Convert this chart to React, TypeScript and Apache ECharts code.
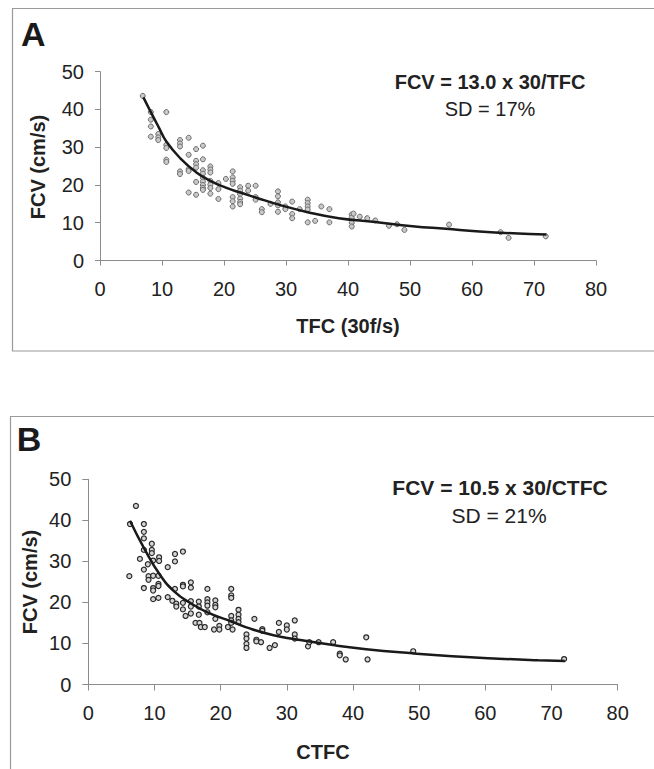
import React, { useEffect, useRef } from "react";
import * as echarts from "echarts";

// Panel A: TFC (30f/s) vs FCV (cm/s)
const tfcA = [6.9, 8.2, 8.2, 8.2, 8.2, 9.4, 9.4, 9.4, 10.7, 10.7, 10.7, 10.7, 10.7, 12.9, 12.9, 12.9, 12.9, 12.9, 14.3, 14.3, 14.3, 14.3, 14.3, 15.5, 15.5, 15.5, 15.5, 15.5, 15.5, 16.6, 16.6, 16.6, 16.6, 16.6, 16.6, 16.6, 16.6, 16.6, 17.8, 17.8, 17.8, 17.8, 17.8, 17.8, 17.8, 19.1, 19.1, 19.1, 20.3, 21.4, 21.4, 21.4, 21.4, 21.4, 21.4, 21.4, 22.6, 22.6, 22.6, 22.6, 22.6, 22.6, 23.9, 23.9, 25.1, 25.1, 25.1, 26.1, 26.1, 27.5, 28.7, 28.7, 28.7, 28.7, 28.7, 29.9, 29.9, 31.0, 31.0, 31.0, 32.2, 33.5, 33.5, 33.5, 33.5, 33.5, 34.7, 35.7, 37.0, 37.0, 40.6, 40.6, 40.6, 40.6, 40.9, 41.9, 43.1, 44.4, 46.6, 47.9, 49.1, 56.3, 64.6, 65.9, 71.9];
const fcvA = [43.6, 39.3, 37.3, 35.5, 32.8, 33.5, 32.6, 31.9, 39.3, 30.6, 29.8, 26.7, 26.1, 31.9, 31.0, 30.2, 23.6, 22.9, 32.5, 28.0, 24.2, 23.7, 18.0, 29.5, 26.4, 25.5, 24.6, 20.8, 17.4, 30.4, 26.8, 23.9, 23.0, 21.9, 20.9, 20.0, 19.2, 18.7, 24.9, 24.1, 23.3, 21.1, 20.1, 19.2, 17.7, 20.5, 18.9, 16.3, 21.6, 23.6, 22.0, 21.1, 20.3, 16.8, 15.7, 14.3, 19.4, 18.5, 17.6, 16.4, 15.5, 14.9, 19.8, 18.5, 19.8, 16.8, 16.1, 13.6, 12.8, 15.0, 18.3, 17.0, 15.4, 14.6, 12.9, 14.3, 13.6, 15.6, 12.3, 11.2, 13.6, 16.1, 15.2, 14.3, 13.5, 10.1, 10.5, 14.3, 13.6, 10.1, 12.2, 11.3, 10.0, 9.0, 12.4, 11.6, 11.2, 10.6, 9.2, 9.6, 8.1, 9.5, 7.5, 6.0, 6.4];
const curveAx = [7, 8.2, 9.5, 10.7, 13, 15.5, 17.8, 20.3, 22.6, 25.1, 28.8, 33.5, 38.5, 44.4, 50.4, 55.8, 61.2, 66.6, 72];
const curveAy = [43.2, 39.3, 35.2, 31.5, 27, 23.4, 21.1, 19.3, 18, 16.7, 14.8, 12.8, 11.2, 10.2, 9.1, 8.4, 7.7, 7.2, 6.9];

// Panel B: CTFC vs FCV (cm/s)
const ctfcB = [6.2, 6.3, 7.2, 7.8, 8.4, 8.4, 8.4, 8.4, 8.4, 8.4, 9.0, 9.1, 9.1, 9.6, 9.6, 9.6, 9.8, 9.8, 9.8, 9.8, 9.8, 10.6, 10.7, 10.7, 10.6, 10.6, 10.6, 12.0, 12.0, 12.7, 13.1, 13.1, 13.1, 13.3, 13.3, 14.3, 14.3, 14.3, 14.3, 14.3, 14.7, 15.5, 15.5, 15.5, 15.5, 15.5, 16.2, 16.8, 16.7, 16.7, 16.7, 17.0, 17.6, 18.0, 18.0, 18.0, 18.0, 18.0, 19.2, 19.2, 19.2, 19.2, 19.0, 19.8, 19.8, 21.6, 21.6, 21.6, 21.6, 21.6, 21.6, 21.1, 21.8, 22.7, 22.7, 22.7, 22.7, 23.9, 23.9, 23.9, 23.9, 25.1, 25.4, 25.4, 26.1, 26.3, 26.3, 27.4, 28.2, 28.8, 28.8, 30.0, 30.0, 31.2, 31.2, 31.2, 33.2, 33.4, 34.8, 37.0, 38.0, 38.0, 38.9, 42.0, 42.2, 49.1, 71.9];
const fcvB = [26.4, 39.1, 43.5, 30.6, 39.1, 37.2, 35.6, 32.8, 28.0, 23.5, 29.3, 26.4, 25.5, 34.3, 32.8, 32.0, 30.2, 26.5, 23.5, 22.9, 20.8, 21.1, 31.0, 30.1, 26.5, 24.5, 24.0, 28.6, 21.3, 20.4, 31.8, 30.0, 23.3, 19.7, 19.0, 32.4, 24.3, 23.9, 19.9, 18.3, 16.7, 24.9, 23.6, 20.3, 19.0, 17.3, 15.0, 15.0, 20.2, 19.0, 17.0, 14.0, 14.0, 23.3, 20.8, 20.0, 19.2, 17.6, 20.5, 19.4, 18.8, 16.0, 13.4, 14.3, 13.4, 23.3, 21.7, 21.1, 16.7, 15.6, 15.0, 14.0, 13.4, 18.2, 17.0, 16.0, 15.2, 12.2, 11.2, 9.9, 8.9, 16.0, 10.9, 10.5, 10.3, 13.5, 13.1, 8.9, 9.6, 15.0, 12.8, 14.4, 13.4, 15.6, 12.2, 11.2, 9.3, 10.3, 10.3, 10.3, 7.5, 7.1, 6.1, 11.5, 6.1, 8.1, 6.2];
const curveBx = [6.3, 8.5, 10.8, 13.1, 15.5, 18, 21.7, 24.5, 28, 31, 37, 42, 49, 55, 62, 68, 72];
const curveBy = [39.9, 33, 26.8, 22.5, 19.8, 17.6, 15.3, 13.6, 12, 11.1, 9.6, 8.6, 7.6, 6.9, 6.3, 5.9, 5.7];

const xTickMin = 0, xTickMax = 80, xTickStep = 10;
const yTickMin = 0, yTickMax = 50, yTickStep = 10;

const FONT = "'Liberation Sans', Arial, Helvetica, sans-serif";
const TXT = "#222";
const AX = "#8c8c8c";

function zip(xs: number[], ys: number[]) {
  return xs.map((x, i) => [x, ys[i]]);
}

export default function App() {
  const ref = useRef<HTMLDivElement>(null);
  useEffect(() => {
    if (!ref.current) return;
    const chart = echarts.init(ref.current, null, { renderer: "svg" });
    const xAxisBase = (gridIndex: number, tickLen: number) => ({
      gridIndex,
      type: "value",
      min: xTickMin,
      max: xTickMax,
      interval: xTickStep,
      axisLine: { show: true, onZero: false, lineStyle: { color: AX, width: 1 } },
      axisTick: { show: true, length: tickLen, lineStyle: { color: AX } },
      axisLabel: { color: TXT, fontSize: 20, fontFamily: FONT, margin: 18 },
      splitLine: { show: false },
    });
    const yAxisBase = (gridIndex: number, tickLen: number, margin: number, fs: number) => ({
      gridIndex,
      type: "value",
      min: yTickMin,
      max: yTickMax,
      interval: yTickStep,
      axisLine: { show: true, onZero: false, lineStyle: { color: AX, width: 1 } },
      axisTick: { show: true, length: tickLen, lineStyle: { color: AX } },
      axisLabel: { color: TXT, fontSize: fs, fontFamily: FONT, margin },
      splitLine: { show: false },
    });
    chart.setOption({
      animation: false,
      backgroundColor: "#ffffff",
      grid: [
        { left: 100, top: 71.7, width: 496, height: 188.8 },
        { left: 88.3, top: 479.3, width: 529.4, height: 205.2 },
      ],
      xAxis: [xAxisBase(0, 5), xAxisBase(1, 6)],
      yAxis: [yAxisBase(0, 5, 16, 20), yAxisBase(1, 6, 17, 20)],
      series: [
        {
          type: "scatter",
          xAxisIndex: 0,
          yAxisIndex: 0,
          data: zip(tfcA, fcvA),
          symbol: "circle",
          symbolSize: 5,
          itemStyle: { color: "#c9c9c9", borderColor: "#6a6a6a", borderWidth: 1, opacity: 1 },
          z: 2,
        },
        {
          type: "line",
          xAxisIndex: 0,
          yAxisIndex: 0,
          data: zip(curveAx, curveAy),
          smooth: true,
          showSymbol: false,
          symbol: "none",
          lineStyle: { color: "#1a1a1a", width: 2.5 },
          z: 3,
        },
        {
          type: "scatter",
          xAxisIndex: 1,
          yAxisIndex: 1,
          data: zip(ctfcB, fcvB),
          symbol: "circle",
          symbolSize: 5,
          itemStyle: { color: "#d4d4d4", borderColor: "#2a2a2a", borderWidth: 1.2, opacity: 1 },
          z: 2,
        },
        {
          type: "line",
          xAxisIndex: 1,
          yAxisIndex: 1,
          data: zip(curveBx, curveBy),
          smooth: true,
          showSymbol: false,
          symbol: "none",
          lineStyle: { color: "#1a1a1a", width: 2.5 },
          z: 3,
        },
      ],
      graphic: [
        { type: "rect", shape: { x: 12.5, y: 8.5, width: 680, height: 342.5 }, style: { fill: "none", stroke: "#9a9a9a", lineWidth: 1.2 }, z: 0 },
        { type: "rect", shape: { x: 10.5, y: 416.5, width: 680, height: 420 }, style: { fill: "none", stroke: "#9a9a9a", lineWidth: 1.2 }, z: 0 },
        { type: "text", x: 33.3, y: 34.2, style: { text: "A", font: `bold 34px ${FONT}`, fill: "#1a1a1a", textAlign: "center", textVerticalAlign: "middle" } },
        { type: "text", x: 29, y: 439, style: { text: "B", font: `bold 34px ${FONT}`, fill: "#1a1a1a", textAlign: "center", textVerticalAlign: "middle" } },
        { type: "text", x: 37.5, y: 167, rotation: Math.PI / 2, style: { text: "FCV (cm/s)", font: `bold 20px ${FONT}`, fill: TXT, textAlign: "center", textVerticalAlign: "middle" } },
        { type: "text", x: 29.5, y: 582, rotation: Math.PI / 2, style: { text: "FCV (cm/s)", font: `bold 20px ${FONT}`, fill: TXT, textAlign: "center", textVerticalAlign: "middle" } },
        { type: "text", x: 348, y: 325.5, style: { text: "TFC (30f/s)", font: `bold 20px ${FONT}`, fill: TXT, textAlign: "center", textVerticalAlign: "middle" } },
        { type: "text", x: 323, y: 751.5, style: { text: "CTFC", font: `bold 20px ${FONT}`, fill: TXT, textAlign: "center", textVerticalAlign: "middle" } },
        { type: "text", x: 490, y: 81.7, style: { text: "FCV = 13.0 x 30/TFC", font: `bold 20px ${FONT}`, fill: TXT, textAlign: "center", textVerticalAlign: "middle" } },
        { type: "text", x: 490, y: 109.3, style: { text: "SD = 17%", font: `20px ${FONT}`, fill: TXT, textAlign: "center", textVerticalAlign: "middle" } },
        { type: "text", x: 500, y: 487, style: { text: "FCV = 10.5 x 30/CTFC", font: `bold 21px ${FONT}`, fill: TXT, textAlign: "center", textVerticalAlign: "middle" } },
        { type: "text", x: 499, y: 515, style: { text: "SD = 21%", font: `21px ${FONT}`, fill: TXT, textAlign: "center", textVerticalAlign: "middle" } },
      ],
    });
    return () => chart.dispose();
  }, []);
  return (
    <div
      ref={ref}
      style={{ position: "absolute", left: 0, top: 0, width: 654, height: 769, background: "#fff" }}
    />
  );
}
